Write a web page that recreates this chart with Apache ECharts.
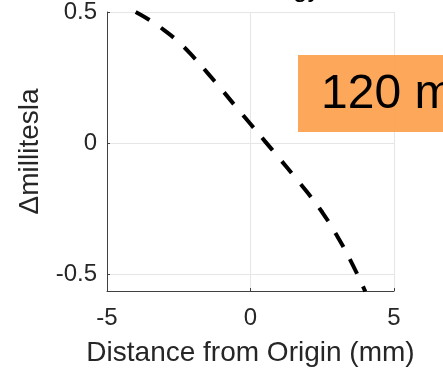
<!DOCTYPE html>
<html>
<head>
<meta charset="utf-8">
<script src="https://cdn.jsdelivr.net/npm/echarts@6/dist/echarts.min.js"></script>
<style>html,body{margin:0;padding:0;background:#fff;}#c{width:443px;height:373px;}</style>
</head>
<body>
<div id="c"></div>
<script>
var xValues = [-4, -3.5, -3, -2.5, -2, -1.5, -1, -0.5, 0, 0.5, 1, 1.5, 2, 2.5, 3, 3.5, 4];
var yValues = [0.50, 0.468, 0.430, 0.385, 0.330, 0.268, 0.204, 0.138, 0.073, 0.008, -0.057, -0.123, -0.190, -0.263, -0.350, -0.450, -0.565];
var xTicks = [-5, 0, 5];
var yTicks = [-0.5, 0, 0.5];
var xLabel = 'Distance from Origin (mm)';
var yLabel = '\u0394millitesla';
var boxText = '120 mT';
var titleText = 'gy';

var font = '"Liberation Sans", Arial, sans-serif';
var chart = echarts.init(document.getElementById('c'), null, {renderer: 'canvas'});
var pts = xValues.map(function (x, i) { return [x, yValues[i]]; });

chart.setOption({
  animation: false,
  backgroundColor: '#fff',
  grid: {left: 107, right: 49, top: 5, bottom: 82, containLabel: false},
  xAxis: {
    type: 'value', min: -5, max: 5, interval: 5,
    name: xLabel, nameLocation: 'middle', nameGap: 48,
    nameTextStyle: {fontFamily: font, fontSize: 28, color: '#262626'},
    axisLine: {show: true, onZero: false, lineStyle: {color: '#404040', width: 1}},
    axisTick: {show: true, inside: true, length: 3, lineStyle: {color: '#404040'}, customValues: xTicks},
    axisLabel: {fontFamily: font, fontSize: 24, color: '#262626', margin: 15, customValues: xTicks},
    splitLine: {show: true, lineStyle: {color: '#e6e6e6', width: 1}}
  },
  yAxis: {
    type: 'value', min: -0.563, max: 0.5,
    name: yLabel, nameLocation: 'middle', nameGap: 62, nameRotate: 90,
    nameTextStyle: {fontFamily: font, fontSize: 28, color: '#262626'},
    axisLine: {show: true, onZero: false, lineStyle: {color: '#404040', width: 1}},
    axisTick: {show: true, inside: true, length: 3, lineStyle: {color: '#404040'}, customValues: yTicks},
    axisLabel: {fontFamily: font, fontSize: 24, color: '#262626', margin: 10, customValues: yTicks,
      formatter: function (v) { return String(v); }},
    splitLine: {show: true, lineStyle: {color: '#e6e6e6', width: 1}}
  },
  series: [{
    type: 'line', data: pts, smooth: true, symbol: 'none', clip: true,
    lineStyle: {color: '#000', width: 4, type: [16, 14]}
  }],
  graphic: [
    {type: 'rect', shape: {x: 298, y: 55, width: 160, height: 77}, style: {fill: 'rgba(253,157,73,0.9)'}, z: 100},
    {type: 'text', x: 321, y: 95, style: {text: boxText, fontFamily: font, fontSize: 48, fill: '#000', verticalAlign: 'middle', align: 'left'}, z: 101},
    {type: 'text', x: 293, y: 3, style: {text: titleText, fontFamily: font, fontSize: 26, fill: '#000', verticalAlign: 'bottom', align: 'left'}, z: 101}
  ]
});
</script>
</body>
</html>
